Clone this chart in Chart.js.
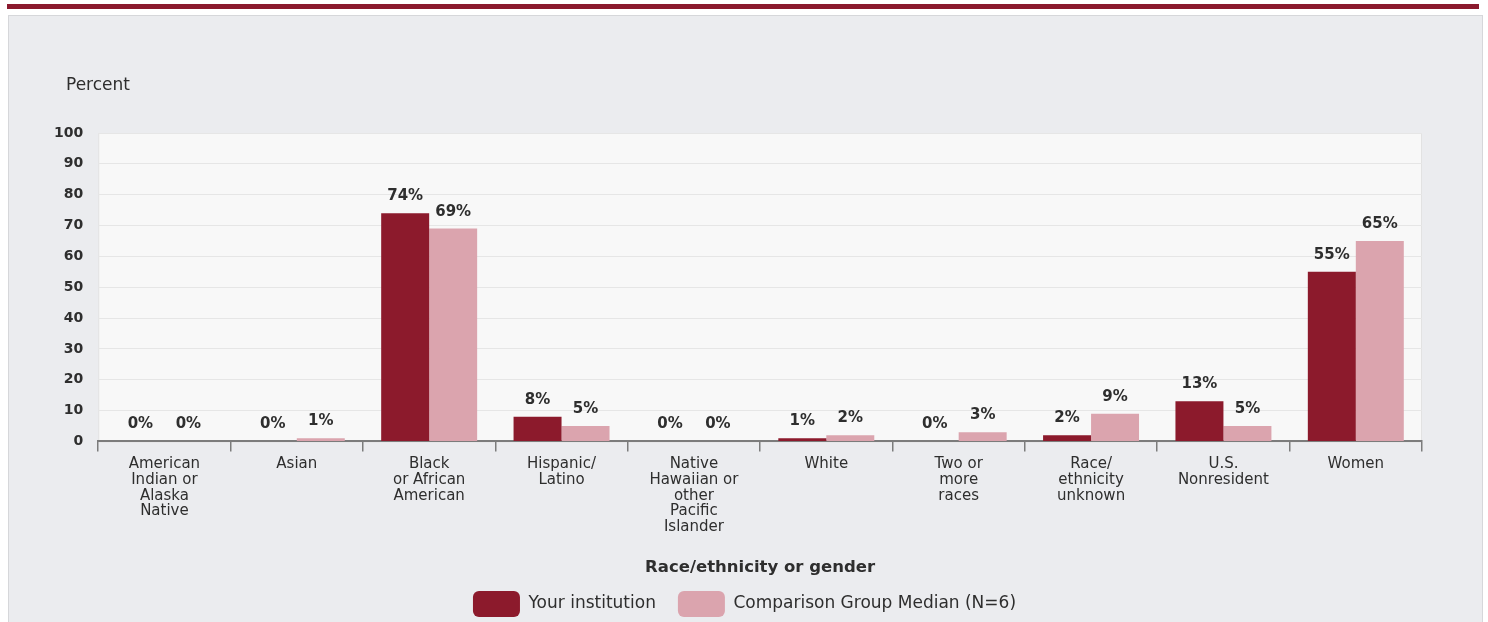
<!DOCTYPE html>
<html>
<head>
<meta charset="utf-8">
<script src="https://cdn.jsdelivr.net/npm/chart.js@4.4.1/dist/chart.umd.min.js"></script>
<style>
  html, body { margin: 0; padding: 0; background: #ffffff; overflow: hidden; width: 1488px; height: 622px; }
  .faixa { position: absolute; left: 7px; top: 4px; width: 1472px; height: 5px; background: #8b1a2e; }
  .painel { position: absolute; left: 8px; top: 15px; width: 1473px; height: 620px; background: #ebecef; border: 1px solid #d6d7da; }
  #grafico { position: absolute; left: 0; top: 0; }
</style>
</head>
<body>
<div class="faixa"></div>
<div class="painel"></div>
<canvas id="grafico" width="1488" height="640"></canvas>
<script>
// --- DADOS ---
const categorias = [
    ['American', 'Indian or', 'Alaska', 'Native'],
    ['Asian'],
    ['Black', 'or African', 'American'],
    ['Hispanic/', 'Latino'],
    ['Native', 'Hawaiian or', 'other', 'Pacific', 'Islander'],
    ['White'],
    ['Two or', 'more', 'races'],
    ['Race/', 'ethnicity', 'unknown'],
    ['U.S.', 'Nonresident'],
    ['Women']
];
const suaInstituicao = [0, 0, 74, 8, 0, 1, 0, 2, 13, 55];
const medianaGrupo = [0, 1, 69, 5, 0, 2, 3, 9, 5, 65];
const nomesSeries = ['Your institution', 'Comparison Group Median (N=6)'];
const ticksY = [0, 10, 20, 30, 40, 50, 60, 70, 80, 90, 100];

const COR_ESCURA = '#8c1a2c';
const COR_CLARA = '#dba4ae';
const COR_TEXTO = '#2e2e2e';
const FONTE = "'DejaVu Sans', sans-serif";

// fundo da área do gráfico
const fundoArea = {
    id: 'fundoArea',
    beforeDraw(chart) {
        const { ctx, chartArea: a } = chart;
        ctx.save();
        ctx.fillStyle = '#f8f8f8';
        ctx.fillRect(a.left, a.top, a.right - a.left, a.bottom - a.top);
        ctx.strokeStyle = '#e2e2e2';
        ctx.lineWidth = 1;
        ctx.strokeRect(a.left + 0.5, a.top + 0.5, a.right - a.left - 1, a.bottom - a.top);
        ctx.restore();
    }
};

// legenda centralizada sob a área do gráfico (não sob o canvas todo)
const ajusteLegenda = {
    id: 'ajusteLegenda',
    afterLayout(chart) {
        if (chart.legend) chart.legend.left += 28;
    }
};

// rótulo "Percent" acima do eixo y
const rotuloEixoY = {
    id: 'rotuloEixoY',
    afterDraw(chart) {
        const { ctx } = chart;
        ctx.save();
        ctx.font = '17px ' + FONTE;
        ctx.fillStyle = COR_TEXTO;
        ctx.textAlign = 'left';
        ctx.textBaseline = 'middle';
        ctx.fillText('Percent', 66, 86);
        ctx.restore();
    }
};

// valores em cima das barras
const rotulosBarras = {
    id: 'rotulosBarras',
    afterDatasetsDraw(chart) {
        const { ctx } = chart;
        ctx.save();
        ctx.font = 'bold 15px ' + FONTE;
        ctx.fillStyle = COR_TEXTO;
        ctx.textAlign = 'center';
        ctx.textBaseline = 'alphabetic';
        chart.data.datasets.forEach((ds, i) => {
            chart.getDatasetMeta(i).data.forEach((bar, j) => {
                ctx.fillText(ds.data[j] + '%', bar.x, bar.y - 13);
            });
        });
        ctx.restore();
    }
};

new Chart(document.getElementById('grafico').getContext('2d'), {
    type: 'bar',
    data: {
        labels: categorias,
        datasets: [
            { label: nomesSeries[0], data: suaInstituicao, backgroundColor: COR_ESCURA },
            { label: nomesSeries[1], data: medianaGrupo, backgroundColor: COR_CLARA }
        ].map(d => ({ ...d, categoryPercentage: 0.725, barPercentage: 1.0, borderRadius: 0 }))
    },
    options: {
        responsive: false,
        animation: false,
        layout: { padding: { left: 39, right: 66, top: 133, bottom: 13 } },
        plugins: {
            legend: {
                position: 'bottom',
                labels: {
                    boxWidth: 47,
                    boxHeight: 26,
                    padding: 22,
                    color: COR_TEXTO,
                    font: { family: FONTE, size: 17 },
                    generateLabels(chart) {
                        return chart.data.datasets.map((ds, i) => ({
                            text: ds.label,
                            fillStyle: ds.backgroundColor,
                            strokeStyle: ds.backgroundColor,
                            lineWidth: 0,
                            borderRadius: 6,
                            fontColor: COR_TEXTO,
                            datasetIndex: i
                        }));
                    }
                }
            },
            tooltip: { enabled: false }
        },
        scales: {
            x: {
                grid: { drawOnChartArea: false, tickLength: 10, color: '#7c7c7c', lineWidth: 1.5, offset: true },
                border: { color: '#7c7c7c', width: 2 },
                ticks: {
                    color: COR_TEXTO,
                    font: { family: FONTE, size: 15, lineHeight: 1.05 },
                    maxRotation: 0,
                    autoSkip: false,
                    padding: 5
                },
                title: {
                    display: true,
                    text: 'Race/ethnicity or gender',
                    color: COR_TEXTO,
                    font: { family: FONTE, size: 16.5, weight: 'bold' },
                    padding: { top: 18, bottom: -9 }
                }
            },
            y: {
                min: 0,
                max: 100,
                afterBuildTicks(axis) { axis.ticks = ticksY.map(v => ({ value: v })); },
                grid: { color: '#e6e6e6', drawTicks: false },
                border: { display: false },
                ticks: {
                    color: COR_TEXTO,
                    font: { family: FONTE, size: 14, weight: 'bold' },
                    padding: 15
                }
            }
        }
    },
    plugins: [fundoArea, ajusteLegenda, rotuloEixoY, rotulosBarras]
});
</script>
</body>
</html>
